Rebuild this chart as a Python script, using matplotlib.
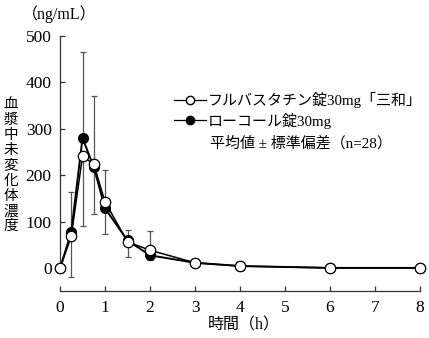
import matplotlib
matplotlib.use("Agg")
import matplotlib.pyplot as plt
from matplotlib.lines import Line2D

plt.rcParams['font.family'] = ['Liberation Serif', 'Noto Sans CJK JP']

time_h = [0, 0.25, 0.5, 0.75, 1, 1.5, 2, 3, 4, 6, 8]
test_mean = [0, 69, 241, 224, 143, 57, 39, 12, 5, 1, 1]
ref_mean = [0, 78, 280, 218, 129, 60, 28, 12, 5, 1, 1]
test_sd_down = [0, 88, 149, 107, 69, 32, 22, 0, 0, 0, 0]
ref_sd_up = [0, 86, 185, 152, 83, 22, 52, 0, 0, 0, 0]

test_label = "フルバスタチン錠30mg「三和」"
ref_label = "ローコール錠30mg"
note_label = "平均値 ± 標準偏差（n=28）"
ylabel_chars = "血漿中未変化体濃度"
unit_label = "（ng/mL）"
xlabel = "時間（h）"
xticks = [0, 1, 2, 3, 4, 5, 6, 7, 8]
yticks = [0, 100, 200, 300, 400, 500]

fig = plt.figure(figsize=(4.29, 3.38), dpi=100)
ax = fig.add_axes([60/429, 1-290.7/338, 360/429, (290.7-35.7)/338])

zeros = [0]*len(time_h)
ax.errorbar(time_h, ref_mean, yerr=[zeros, ref_sd_up], fmt='none',
            ecolor='#555555', elinewidth=0.9, capsize=2.5, capthick=0.9, zorder=1)
ax.errorbar(time_h, test_mean, yerr=[test_sd_down, zeros], fmt='none',
            ecolor='#555555', elinewidth=0.9, capsize=2.5, capthick=0.9, zorder=1)

ax.plot(time_h, ref_mean, color='black', lw=1.4, marker='o', ms=7,
        mfc='black', mec='black', clip_on=False, zorder=3)
ax.plot(time_h, test_mean, color='black', lw=1.1, marker='o', ms=7.5,
        mfc='white', mec='black', mew=0.9, clip_on=False, zorder=4)

ax.set_xlim(0, 8)
ax.set_ylim(-48, 500)
ax.set_xticks(xticks)
ax.set_yticks(yticks)
ax.spines['top'].set_visible(False)
ax.spines['right'].set_visible(False)
ax.spines['left'].set_bounds(0, 500)
for s in ('left', 'bottom'):
    ax.spines[s].set_color('#333333')
    ax.spines[s].set_linewidth(0.9)
ax.tick_params(axis='both', direction='in', length=3.5, width=0.9, color='#333333',
               labelsize=12.5)
ax.tick_params(axis='y', pad=6)
ax.tick_params(axis='x', pad=7)

handles = [Line2D([], [], color='black', lw=0.9, marker='o', ms=6, mfc='white', mec='black'),
           Line2D([], [], color='black', lw=0.9, marker='o', ms=6, mfc='black', mec='black')]
ax.legend(handles, [test_label, ref_label], loc='upper left',
          bbox_to_anchor=(174/429, 1-92/338), bbox_transform=fig.transFigure,
          frameon=False, fontsize=10.8, handlelength=2.1, handletextpad=0.15,
          labelspacing=0.3, borderpad=0, borderaxespad=0)
fig.text(210/429, 1-143/338, note_label, fontsize=10.8, va='center', ha='left')

fig.text(59/429, 1-14/338, unit_label, fontsize=11.5, va='center', ha='center')
for i, ch in enumerate(ylabel_chars):
    fig.text(11/429, 1-(105 + i*15.2)/338, ch, fontsize=10.5, va='center', ha='center')
fig.text(244/429, 1-325/338, xlabel, fontsize=11.5, va='center', ha='center')

fig.savefig("out.png", dpi=100)
